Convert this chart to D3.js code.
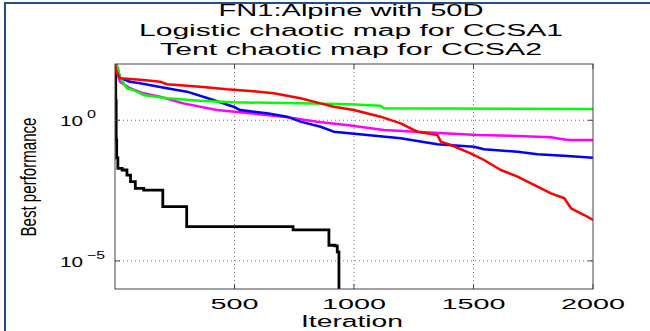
<!DOCTYPE html>
<html><head><meta charset="utf-8">
<script src="https://cdn.jsdelivr.net/npm/d3@7"></script>
<style>
html,body{margin:0;padding:0;background:#fff;}
svg{display:block;font-family:"Liberation Sans",Arial,Helvetica,sans-serif;}
</style></head>
<body><svg id="c" width="650" height="331"></svg>
<script>
// ---- data ----
const titleLines = ["FN1:Alpine with 50D", "Logistic chaotic map for CCSA1", "Tent chaotic map for CCSA2"];
const xLabel = "Iteration";
const yLabel = "Best performance";
const xTicks = [500, 1000, 1500, 2000];
const yTickExp = [0, -5];

const redIter = [1,4,21,119,189,217,356,468,566,664,776,860,915,999,1111,1195,1265,1349,1363,1405,1488,1544,1614,1684,1768,1824,1880,1908,1963,2000];
const redVal  = [100,61.2,31.0,27.0,23.5,19.0,15.6,12.6,11.0,9.06,6.03,3.98,3.02,2.31,1.34,0.776,0.392,0.299,0.173,0.132,0.0668,0.0386,0.0170,0.00984,0.00434,0.00251,0.00168,0.000741,0.000427,0.000284];

const greenIter = [1,7,21,49,77,119,217,356,496,776,985,1111,1125,2000];
const greenVal  = [100,92,34.7,13.7,11.9,7.91,6.03,4.95,4.35,4.01,3.69,3.29,2.66,2.51];

const blueIter = [1,7,21,63,105,217,301,412,496,524,636,720,776,860,915,1055,1195,1349,1502,1544,1684,1768,1894,2000];
const blueVal  = [100,92,31.6,23.4,20.6,13.7,10.4,5.25,3.03,2.31,1.77,1.34,0.891,0.589,0.392,0.299,0.229,0.140,0.115,0.0927,0.0762,0.0617,0.0537,0.0468];

const magentaIter = [1,3,21,63,119,189,286,426,566,706,846,985,1125,1335,1517,1684,1824,1894,2000];
const magentaVal  = [100,72.4,22.9,13.7,9.08,6.87,3.98,2.31,1.77,1.34,0.891,0.650,0.450,0.361,0.299,0.275,0.248,0.200,0.200];

const blackIter = [1,3,5,7,12,30,50,65,85,120,200,300,745,895,920,930,937,2000];
const blackVal  = [100,5.0,0.2,0.046,0.0195,0.017,0.0112,0.0066,0.0038,0.0033,0.00085,0.000166,0.000126,0.000036,0.000034,0.000021,1e-12,1e-12];

// ---- layout ----
const svg = d3.select("#c");
const L = 115, R = 593, T = 64, B = 289;
const x = d3.scaleLinear().domain([0, 2000]).range([L, R]);
const y = d3.scaleLog().domain([1e-6, 1e2]).range([B, T]);

// outer frame (blue)
svg.append("line").attr("x1",4).attr("x2",650).attr("y1",3).attr("y2",3).attr("stroke","#1f4e8a").attr("stroke-width",2);
svg.append("line").attr("x1",5).attr("x2",5).attr("y1",3).attr("y2",331).attr("stroke","#1f4e8a").attr("stroke-width",2);

function sText(str, px, py, size, width, anchor, parent) {
  return (parent || svg).append("text")
    .attr("x", px).attr("y", py)
    .attr("font-size", size)
    .attr("text-anchor", anchor || "middle")
    .attr("textLength", width)
    .attr("lengthAdjust", "spacingAndGlyphs")
    .attr("fill", "#000")
    .text(str);
}

// title
const titleW = [265, 424, 382];
const titleY = [16, 35.5, 55];
titleLines.forEach((t, i) => sText(t, 351, titleY[i], 16, titleW[i]));

// grid
const grid = svg.append("g").attr("stroke", "#777").attr("stroke-width", 1).attr("stroke-dasharray", "1,3");
xTicks.filter(v => v < 2000).forEach(v => {
  grid.append("line").attr("x1", x(v)).attr("x2", x(v)).attr("y1", T).attr("y2", B);
});
yTickExp.forEach(e => {
  grid.append("line").attr("x1", L).attr("x2", R).attr("y1", y(Math.pow(10, e))).attr("y2", y(Math.pow(10, e)));
});

// series
const clip = svg.append("clipPath").attr("id", "pc").append("rect")
  .attr("x", L).attr("y", T).attr("width", R - L).attr("height", B - T);
const plot = svg.append("g").attr("clip-path", "url(#pc)");

function series(iters, vals) { return iters.map((it, i) => [it, vals[i]]); }
const lineLin = d3.line().x(d => x(d[0])).y(d => y(Math.max(d[1], 1e-9)));
const lineStep = d3.line().curve(d3.curveStepAfter).x(d => x(d[0])).y(d => y(Math.max(d[1], 1e-9)));

plot.append("path").datum(series(blackIter, blackVal)).attr("d", lineStep)
  .attr("fill", "none").attr("stroke", "#000").attr("stroke-width", 2.8);
[[magentaIter, magentaVal, "#ff00ff"], [blueIter, blueVal, "#0000ff"], [greenIter, greenVal, "#00ff00"], [redIter, redVal, "#ff0000"]]
  .forEach(([it, v, c]) => {
    plot.append("path").datum(series(it, v)).attr("d", lineLin)
      .attr("fill", "none").attr("stroke", c).attr("stroke-width", 2.5).attr("stroke-linejoin", "round");
  });

// axes box and ticks
const ax = svg.append("g").attr("stroke", "#444").attr("stroke-width", 1).attr("fill", "none");
ax.append("rect").attr("x", L).attr("y", T).attr("width", R - L).attr("height", B - T);
xTicks.forEach(v => {
  ax.append("line").attr("x1", x(v)).attr("x2", x(v)).attr("y1", B).attr("y2", B - 5);
  ax.append("line").attr("x1", x(v)).attr("x2", x(v)).attr("y1", T).attr("y2", T + 5);
});
yTickExp.forEach(e => {
  const yy = y(Math.pow(10, e));
  ax.append("line").attr("x1", L).attr("x2", L + 5).attr("y1", yy).attr("y2", yy);
  ax.append("line").attr("x1", R).attr("x2", R - 5).attr("y1", yy).attr("y2", yy);
});

// x tick labels
xTicks.forEach(v => {
  const s = String(v);
  sText(s, x(v), 309, 15, s.length * 16);
});
sText(xLabel, 352, 327, 16, 102);

// y tick labels
yTickExp.forEach(e => {
  const yy = y(Math.pow(10, e));
  sText("10", 60, yy + 6, 15, 23, "start");
  const ex = String(e).replace("-", "\u2212");
  sText(ex, 87, yy - 2, 11, ex.length * 9, "start");
});

// y label
const yl = svg.append("g").attr("transform", "translate(36,177) rotate(-90)");
sText(yLabel, 0, 0, 22, 119, "middle", yl);
</script></body></html>
